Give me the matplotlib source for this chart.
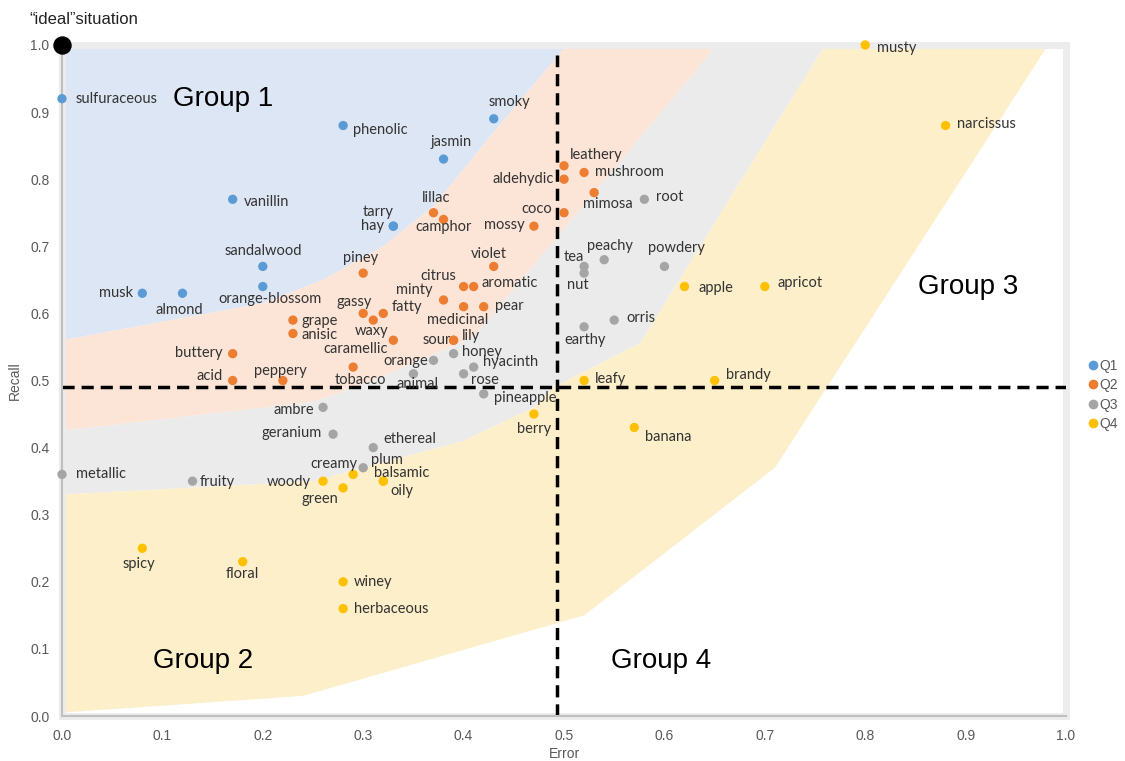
import matplotlib.pyplot as plt
from matplotlib.patches import Polygon, Rectangle
from matplotlib.lines import Line2D

# ---- data (error, recall) per quartile ----
q1_names = ['sulfuraceous', 'phenolic', 'smoky', 'jasmin', 'vanillin', 'tarry', 'hay',
            'sandalwood', 'orange-blossom', 'musk', 'almond']
q1_error = [0.0, 0.28, 0.43, 0.38, 0.17, 0.33, 0.33, 0.20, 0.20, 0.08, 0.12]
q1_recall = [0.92, 0.88, 0.89, 0.83, 0.77, 0.73, 0.73, 0.67, 0.64, 0.63, 0.63]

q2_names = ['leathery', 'aldehydic', 'mushroom', 'mimosa', 'coco', 'mossy', 'lillac', 'camphor',
            'piney', 'violet', 'citrus', 'aromatic', 'minty', 'medicinal', 'pear', 'gassy',
            'fatty', 'waxy', 'grape', 'anisic', 'caramellic', 'sour', 'lily', 'buttery',
            'acid', 'peppery', 'tobacco']
q2_error = [0.50, 0.50, 0.52, 0.53, 0.50, 0.47, 0.37, 0.38, 0.30, 0.43, 0.40, 0.41, 0.38, 0.40,
            0.42, 0.30, 0.32, 0.31, 0.23, 0.23, 0.33, 0.39, 0.39, 0.17, 0.17, 0.22, 0.29]
q2_recall = [0.82, 0.80, 0.81, 0.78, 0.75, 0.73, 0.75, 0.74, 0.66, 0.67, 0.64, 0.64, 0.62, 0.61,
             0.61, 0.60, 0.60, 0.59, 0.59, 0.57, 0.56, 0.56, 0.56, 0.54, 0.50, 0.50, 0.52]

q3_names = ['root', 'peachy', 'tea', 'nut', 'powdery', 'orris', 'earthy', 'honey', 'orange',
            'hyacinth', 'rose', 'animal', 'pineapple', 'ambre', 'geranium', 'ethereal', 'plum',
            'fruity', 'metallic']
q3_error = [0.58, 0.54, 0.52, 0.52, 0.60, 0.55, 0.52, 0.39, 0.37, 0.41, 0.40, 0.35, 0.42, 0.26,
            0.27, 0.31, 0.30, 0.13, 0.0]
q3_recall = [0.77, 0.68, 0.67, 0.66, 0.67, 0.59, 0.58, 0.54, 0.53, 0.52, 0.51, 0.51, 0.48, 0.46,
             0.42, 0.40, 0.37, 0.35, 0.36]

q4_names = ['musty', 'narcissus', 'apple', 'apricot', 'brandy', 'leafy', 'berry', 'banana',
            'creamy', 'woody', 'green', 'balsamic', 'oily', 'spicy', 'floral', 'winey', 'herbaceous']
q4_error = [0.80, 0.88, 0.62, 0.70, 0.65, 0.52, 0.47, 0.57, 0.29, 0.26, 0.28, 0.32, 0.32, 0.08,
            0.18, 0.28, 0.28]
q4_recall = [1.0, 0.88, 0.64, 0.64, 0.50, 0.50, 0.45, 0.43, 0.36, 0.35, 0.34, 0.35, 0.35, 0.25,
             0.23, 0.20, 0.16]

error_threshold = 0.493
recall_threshold = 0.49

# group regions (error, recall vertices)
group1_region = [(0, 0.56), (0.2, 0.615), (0.26, 0.65), (0.32, 0.70), (0.37, 0.76), (0.43, 0.87),
                 (0.5, 0.995), (0, 0.995)]
group_q2_region = [(0, 0.425), (0.25, 0.468), (0.31, 0.50), (0.41, 0.565), (0.65, 0.995),
                   (0.5, 0.995), (0.43, 0.87), (0.37, 0.76), (0.32, 0.70), (0.26, 0.65),
                   (0.2, 0.615), (0, 0.56)]
group_q3_region = [(0, 0.33), (0.25, 0.35), (0.4, 0.41), (0.47, 0.46), (0.49, 0.49), (0.576, 0.556),
                   (0.758, 0.995), (0.65, 0.995), (0.41, 0.565), (0.31, 0.50), (0.25, 0.468),
                   (0, 0.425)]
group_q4_region = [(0, 0.005), (0.24, 0.03), (0.52, 0.15), (0.71, 0.37), (0.98, 0.995),
                   (0.758, 0.995), (0.576, 0.556), (0.49, 0.49), (0.47, 0.46), (0.4, 0.41),
                   (0.25, 0.35), (0, 0.33)]

# label placement: (dx px, dy px, ha)
label_pos = {
    'sulfuraceous': (14, 0, 'left'), 'phenolic': (10, -4, 'left'), 'smoky': (-5, 17, 'left'),
    'jasmin': (8, 17, 'center'), 'vanillin': (11, -3, 'left'), 'tarry': (-15, 14, 'center'),
    'hay': (-9, 0, 'right'), 'sandalwood': (1, 15, 'center'), 'orange-blossom': (7, -12, 'center'),
    'musk': (-9, 0, 'right'), 'almond': (-3, -17, 'center'),
    'leathery': (6, 11, 'left'), 'aldehydic': (-10, 0, 'right'), 'mushroom': (11, 0, 'left'),
    'mimosa': (14, -11, 'center'), 'coco': (-12, 4, 'right'), 'mossy': (-9, 1, 'right'),
    'lillac': (3, 15, 'center'), 'camphor': (0, -8, 'center'), 'piney': (-3, 15, 'center'),
    'violet': (-5, 12, 'center'), 'citrus': (-7, 11, 'right'), 'aromatic': (8, 4, 'left'),
    'minty': (-11, 10, 'right'), 'medicinal': (-6, -13, 'center'), 'pear': (11, 1, 'left'),
    'gassy': (-9, 11, 'center'), 'fatty': (8, 6, 'left'), 'waxy': (-2, -11, 'center'),
    'grape': (9, -1, 'left'), 'anisic': (9, -1, 'left'), 'caramellic': (-5, -9, 'right'),
    'sour': (-3, 0, 'right'), 'lily': (8, 4, 'left'), 'buttery': (-10, 1, 'right'),
    'acid': (-10, 4, 'right'), 'peppery': (-3, 10, 'center'), 'tobacco': (7, -13, 'center'),
    'root': (12, 2, 'left'), 'peachy': (6, 14, 'center'), 'tea': (0, 9, 'right'),
    'nut': (-6, -12, 'center'), 'powdery': (12, 18, 'center'), 'orris': (12, 2, 'left'),
    'earthy': (1, -13, 'center'), 'honey': (8, 2, 'left'), 'orange': (-5, -1, 'right'),
    'hyacinth': (9, 5, 'left'), 'rose': (7, -6, 'left'), 'animal': (4, -10, 'center'),
    'pineapple': (10, -4, 'left'), 'ambre': (-9, -3, 'right'), 'geranium': (-11, 1, 'right'),
    'ethereal': (10, 9, 'left'), 'plum': (8, 8, 'left'), 'fruity': (7, -1, 'left'),
    'metallic': (14, 0, 'left'),
    'musty': (12, -3, 'left'), 'narcissus': (11, 2, 'left'), 'apple': (14, -1, 'left'),
    'apricot': (13, 4, 'left'), 'brandy': (11, 5, 'left'), 'leafy': (11, 2, 'left'),
    'berry': (0, -15, 'center'), 'banana': (11, -10, 'left'), 'creamy': (4, 10, 'right'),
    'woody': (-12, -1, 'right'), 'green': (-5, -11, 'right'), 'balsamic': (-9, 8, 'left'),
    'oily': (7, -10, 'left'), 'spicy': (-3, -16, 'center'), 'floral': (0, -12, 'center'),
    'winey': (11, 0, 'left'), 'herbaceous': (11, 0, 'left'),
}

fig = plt.figure(figsize=(11.25, 7.61), dpi=100)
ax = fig.add_axes([0.0551, 0.0591, 0.8925, 0.8818])
ax.set_xlim(0, 1.0)
ax.set_ylim(0, 1.0)

fills = [(group1_region, '#dde6f4'), (group_q2_region, '#fce4d6'),
         (group_q3_region, '#ebebeb'), (group_q4_region, '#fdefca')]
for verts, c in fills:
    ax.add_patch(Polygon(verts, closed=True, fc=c, ec='none', zorder=0))

ax.add_patch(Rectangle((0, 0), 1.0, 1.0, transform=ax.transAxes, fill=False,
                       ec='#ececec', lw=5, clip_on=False, zorder=0.5))

ax.axhline(recall_threshold, color='black', lw=2.5, ls=(0, (3.5, 2)), zorder=1)
ax.plot([error_threshold, error_threshold], [0, 0.985], color='black', lw=2.5,
        ls=(0, (3.5, 2)), zorder=1)

series = [(q1_names, q1_error, q1_recall, '#5b9bd5'),
          (q2_names, q2_error, q2_recall, '#ed7d31'),
          (q3_names, q3_error, q3_recall, '#a5a5a5'),
          (q4_names, q4_error, q4_recall, '#ffc000')]
for names, xs, ys, c in series:
    ax.scatter(xs, ys, s=45, color=c, edgecolors='none', zorder=3, clip_on=False)
    for n, x, y in zip(names, xs, ys):
        dx, dy, ha = label_pos[n]
        ax.annotate(n, (x, y), xytext=(dx, dy), textcoords='offset pixels', ha=ha,
                    va='center', fontsize=10.5, family='Lato', color='#333333', zorder=4)

# ideal point
ax.scatter([0], [1.0], s=150, color='black', zorder=5, clip_on=False)
fig.text(0.026, 0.974, '\u201cideal\u201dsituation', fontsize=12, family='Liberation Sans',
         color='#222222', va='center')

for txt, x, y in [('Group 1', 0.16, 0.92), ('Group 2', 0.141, 0.082),
                  ('Group 3', 0.902, 0.64), ('Group 4', 0.597, 0.082)]:
    ax.text(x, y, txt, fontsize=20, family='Liberation Sans', ha='center', va='center',
            color='black', zorder=4)

ticks = [i / 10 for i in range(11)]
ax.set_xticks(ticks)
ax.set_yticks(ticks)
ax.set_xticklabels(['%.1f' % t for t in ticks])
ax.set_yticklabels(['%.1f' % t for t in ticks])
ax.tick_params(length=0, pad=9, labelsize=10, labelcolor='#595959')
for lab in ax.get_xticklabels() + ax.get_yticklabels():
    lab.set_family('Liberation Sans')

for s in ['top', 'right']:
    ax.spines[s].set_visible(False)
for s in ['left', 'bottom']:
    ax.spines[s].set_color('#bfbfbf')
    ax.spines[s].set_linewidth(1.5)
    ax.spines[s].set_zorder(2)

ax.set_xlabel('Error', fontsize=10, family='Liberation Sans', color='#595959', labelpad=3)
ax.set_ylabel('Recall', fontsize=10, family='Liberation Sans', color='#595959', labelpad=6)

handles = [Line2D([], [], marker='o', ls='none', color=c, markersize=6) for c in
           ['#5b9bd5', '#ed7d31', '#a5a5a5', '#ffc000']]
fig.legend(handles, ['Q1', 'Q2', 'Q3', 'Q4'], loc='center left', bbox_to_anchor=(0.9667, 0.481),
           frameon=False, handletextpad=0.05, handlelength=0.8, labelspacing=0.4,
           borderpad=0, borderaxespad=0,
           prop={'family': 'Liberation Sans', 'size': 10}, labelcolor='#595959')

fig.savefig('out.png', dpi=100)
